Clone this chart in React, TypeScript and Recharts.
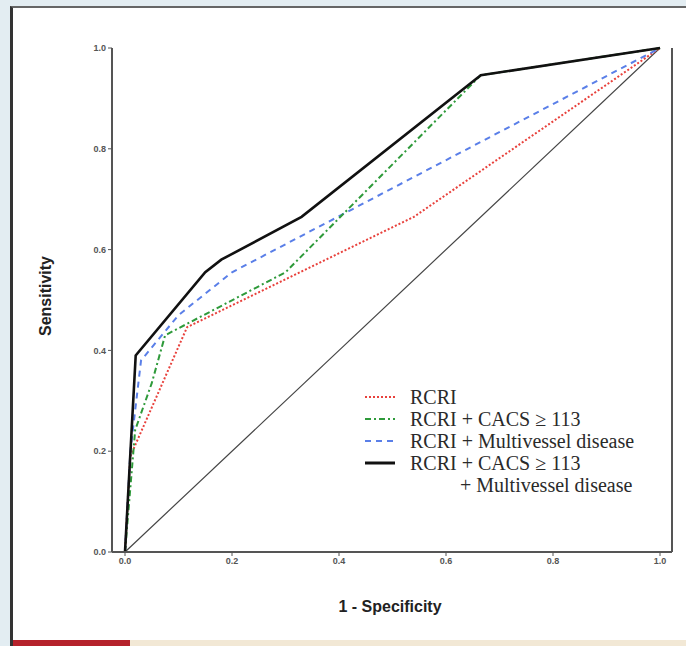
import React from "react";
import { LineChart, Line, XAxis, YAxis, Label, ReferenceLine } from "recharts";

const xTicks = [0, 0.2, 0.4, 0.6, 0.8, 1.0];
const yTicks = [0, 0.2, 0.4, 0.6, 0.8, 1.0];

const rcri = [
  { x: 0, y: 0 },
  { x: 0.01, y: 0.19 },
  { x: 0.116, y: 0.446 },
  { x: 0.54, y: 0.665 },
  { x: 1, y: 1 },
];
const rcriCacs = [
  { x: 0, y: 0 },
  { x: 0.019, y: 0.242 },
  { x: 0.05, y: 0.335 },
  { x: 0.075, y: 0.43 },
  { x: 0.3, y: 0.555 },
  { x: 0.665, y: 0.946 },
  { x: 1, y: 1 },
];
const rcriMulti = [
  { x: 0, y: 0 },
  { x: 0.01, y: 0.2 },
  { x: 0.03, y: 0.38 },
  { x: 0.1, y: 0.47 },
  { x: 0.2, y: 0.555 },
  { x: 1, y: 1 },
];
const rcriBoth = [
  { x: 0, y: 0 },
  { x: 0.02, y: 0.39 },
  { x: 0.15, y: 0.555 },
  { x: 0.18, y: 0.58 },
  { x: 0.33, y: 0.665 },
  { x: 0.665, y: 0.946 },
  { x: 1, y: 1 },
];
const diagonal = [
  { x: 0, y: 0 },
  { x: 1, y: 1 },
];

const legendItems = [
  { label: "RCRI", color: "#e8413c", dash: "2 2", width: 2 },
  { label: "RCRI + CACS \u2265 113", color: "#2e9a3a", dash: "6 3 2 3", width: 2 },
  { label: "RCRI + Multivessel disease", color: "#5a7fe8", dash: "6 5", width: 2 },
  { label: "RCRI + CACS \u2265 113", color: "#111111", dash: "", width: 3 },
];

const tickStyle = { fontSize: 9, fill: "#555", fontFamily: "Arial, Liberation Sans, sans-serif", fontWeight: 700 };

function LegendBox() {
  return (
    <div style={{ fontFamily: "'Liberation Serif', 'Times New Roman', serif", fontSize: 20, color: "#2a2a2a", lineHeight: "22px", whiteSpace: "nowrap" }}>
      {legendItems.map((it, i) => (
        <div key={i} style={{ display: "flex", alignItems: "center", height: 22 }}>
          <svg width={30} height={6} style={{ marginRight: 15 }}>
            <line x1={0} y1={3} x2={30} y2={3} stroke={it.color} strokeWidth={it.width} strokeDasharray={it.dash || undefined} />
          </svg>
          <span>{it.label}</span>
        </div>
      ))}
      <div style={{ height: 22, paddingLeft: 95 }}>+ Multivessel disease</div>
    </div>
  );
}

export default function App() {
  const domainX: [number, number] = [-0.0243, 1.0224];
  return (
    <div style={{ position: "absolute", left: 0, top: 0, width: 686, height: 646, background: "#e3edf2", overflow: "hidden" }}>
      <div style={{ position: "absolute", left: 10, top: 6, width: 676, height: 640, background: "#fff", borderLeft: "3px solid #333", borderTop: "2px solid #666", boxSizing: "border-box" }} />
      <div style={{ position: "absolute", left: 13, top: 640, width: 117, height: 6, background: "#b5222b" }} />
      <div style={{ position: "absolute", left: 130, top: 640, width: 556, height: 6, background: "#f2e8d5" }} />
      <div style={{ position: "absolute", left: 0, top: 0 }}>
        <LineChart width={686} height={646} margin={{ top: 48, right: 14, bottom: 64, left: 72 }}>
          <XAxis
            type="number"
            dataKey="x"
            domain={domainX}
            ticks={xTicks}
            tickFormatter={(v: number) => v.toFixed(1)}
            allowDataOverflow
            height={30}
            tick={tickStyle}
            tickSize={4}
            axisLine={{ stroke: "#555", strokeWidth: 2 }}
            tickLine={{ stroke: "#555" }}
          >
            <Label
              content={() => (
                <text x={390} y={612} textAnchor="middle" style={{ fontFamily: "Arial, 'Liberation Sans', sans-serif", fontSize: 16, fontWeight: 700, fill: "#222" }}>
                  1 - Specificity
                </text>
              )}
            />
          </XAxis>
          <XAxis xAxisId="top" orientation="top" type="number" domain={domainX} tick={false} tickLine={false} height={0} axisLine={{ stroke: "#555", strokeWidth: 2 }} />
          <YAxis
            type="number"
            domain={[0, 1]}
            ticks={yTicks}
            tickFormatter={(v: number) => v.toFixed(1)}
            width={40}
            tick={tickStyle}
            tickSize={4}
            axisLine={{ stroke: "#555", strokeWidth: 2 }}
            tickLine={{ stroke: "#555" }}
          >
            <Label
              content={() => (
                <text x={51} y={296} transform="rotate(-90 51 296)" textAnchor="middle" style={{ fontFamily: "Arial, 'Liberation Sans', sans-serif", fontSize: 16, fontWeight: 700, fill: "#222" }}>
                  Sensitivity
                </text>
              )}
            />
          </YAxis>
          <ReferenceLine x={domainX[1]} stroke="#555" strokeWidth={2} ifOverflow="extendDomain" />
          <Line data={diagonal} dataKey="y" type="linear" stroke="#444" strokeWidth={1.2} dot={false} isAnimationActive={false} />
          <Line data={rcri} dataKey="y" type="linear" stroke="#e8413c" strokeWidth={2} strokeDasharray="2 2" dot={false} isAnimationActive={false} />
          <Line data={rcriMulti} dataKey="y" type="linear" stroke="#5a7fe8" strokeWidth={2} strokeDasharray="6 5" dot={false} isAnimationActive={false} />
          <Line data={rcriCacs} dataKey="y" type="linear" stroke="#2e9a3a" strokeWidth={2} strokeDasharray="6 3 2 3" dot={false} isAnimationActive={false} />
          <Line data={rcriBoth} dataKey="y" type="linear" stroke="#111" strokeWidth={2.6} dot={false} isAnimationActive={false} />
        </LineChart>
      </div>
      <div style={{ position: "absolute", left: 365, top: 386, width: 320 }}>
        <LegendBox />
      </div>
    </div>
  );
}
